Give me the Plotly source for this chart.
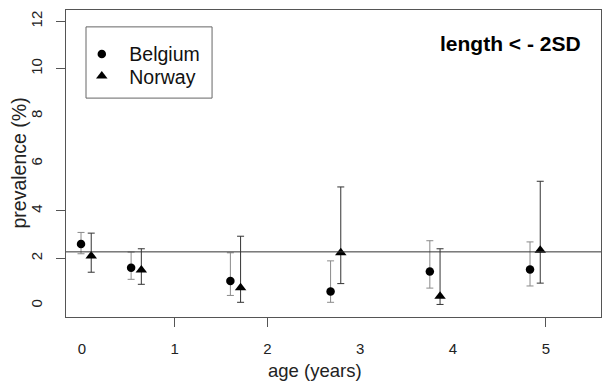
import plotly.graph_objects as go

# ---- data ----
belgium_x = [-0.01, 0.53, 1.60, 2.68, 3.75, 4.83]
belgium_y = [2.60, 1.60, 1.04, 0.60, 1.44, 1.53]
belgium_hi = [3.09, 2.26, 2.23, 1.89, 2.74, 2.69]
belgium_lo = [2.19, 1.11, 0.43, 0.14, 0.74, 0.83]

norway_x = [0.10, 0.64, 1.71, 2.79, 3.86, 4.94]
norway_y = [2.10, 1.50, 0.76, 2.23, 0.40, 2.34]
norway_hi = [3.06, 2.40, 2.93, 5.01, 2.40, 5.25]
norway_lo = [1.41, 0.90, 0.14, 0.93, 0.05, 0.95]

reference_level = 2.27

x_tick_labels = [0, 1, 2, 3, 4, 5]
x_tick_marks = [1, 2, 5]
y_tick_labels = [0, 2, 4, 6, 8, 10, 12]
y_tick_marks = [2, 4, 10, 12]

X_RANGE = [-0.172, 5.595]
Y_RANGE = [-0.48, 12.48]

FONT = "Liberation Sans, Arial, sans-serif"
AXC = "#555555"

fig = go.Figure()

fig.add_trace(go.Scatter(
    x=belgium_x, y=belgium_y, mode="markers", name="Belgium", legend="legend",
    marker=dict(symbol="circle", size=8.5, color="black"),
    error_y=dict(type="data", symmetric=False,
                 array=[h - v for h, v in zip(belgium_hi, belgium_y)],
                 arrayminus=[v - l for l, v in zip(belgium_lo, belgium_y)],
                 color="#8a8a8a", thickness=1, width=3.5),
))
fig.add_trace(go.Scatter(
    x=norway_x, y=norway_y, mode="markers", name="Norway", legend="legend2",
    marker=dict(symbol="triangle-up", size=10, color="black"),
    error_y=dict(type="data", symmetric=False,
                 array=[h - v for h, v in zip(norway_hi, norway_y)],
                 arrayminus=[v - l for l, v in zip(norway_lo, norway_y)],
                 color="#333333", thickness=1, width=3.5),
))
# dummy trace so the tick-mark overlay axes are drawn
fig.add_trace(go.Scatter(x=[], y=[], xaxis="x2", yaxis="y2",
                         showlegend=False, hoverinfo="skip"))

fig.add_hline(y=reference_level, line=dict(color="#333333", width=1))

# legend box
fig.add_shape(type="rect", xref="paper", yref="paper",
              x0=0.0374, x1=0.273, y0=0.713, y1=0.945,
              line=dict(color="#666666", width=1), fillcolor="rgba(0,0,0,0)")

fig.add_annotation(text="<b>length &lt; - 2SD</b>", xref="paper", yref="paper",
                   x=0.966, y=0.8925, xanchor="right", yanchor="middle",
                   showarrow=False, font=dict(family=FONT, size=21, color="black"))
fig.add_annotation(text="age (years)", xref="paper", yref="paper",
                   x=0.465, y=-0.173, xanchor="center", yanchor="middle",
                   showarrow=False, font=dict(family=FONT, size=18.5, color="#222"))
fig.add_annotation(text="prevalence (%)", xref="paper", yref="paper",
                   x=-0.0897, y=0.5, xanchor="center", yanchor="middle",
                   textangle=-90, showarrow=False,
                   font=dict(family=FONT, size=19.5, color="#222"))

legend_common = dict(xanchor="left", yanchor="middle",
                     bgcolor="rgba(0,0,0,0)", borderwidth=0, itemwidth=45,
                     font=dict(family=FONT, size=19.5, color="#111"))

fig.update_layout(
    width=603, height=384,
    margin=dict(l=66, r=2, t=10, b=67),
    paper_bgcolor="white", plot_bgcolor="white",
    font=dict(family=FONT, size=15, color="#222"),
    showlegend=True,
    legend=dict(x=0.0155, y=0.856, **legend_common),
    legend2=dict(x=0.0155, y=0.784, **legend_common),
    xaxis=dict(range=X_RANGE, tickvals=x_tick_labels,
               ticktext=[str(v) for v in x_tick_labels],
               ticks="outside", ticklen=9, tickcolor="rgba(0,0,0,0)",
               ticklabelstandoff=9,
               showgrid=False, zeroline=False,
               showline=True, linecolor=AXC, linewidth=1, mirror=True,
               tickfont=dict(family=FONT, size=15, color="#222")),
    yaxis=dict(range=Y_RANGE, tickvals=y_tick_labels,
               ticktext=[str(v) for v in y_tick_labels],
               ticks="outside", ticklen=9, tickcolor="rgba(0,0,0,0)",
               ticklabelstandoff=8, tickangle=-90,
               showgrid=False, zeroline=False,
               showline=True, linecolor=AXC, linewidth=1, mirror=True,
               tickfont=dict(family=FONT, size=15, color="#222")),
    xaxis2=dict(range=X_RANGE, overlaying="x", anchor="y", side="bottom",
                tickvals=x_tick_marks, ticks="outside", ticklen=9,
                tickcolor=AXC, showticklabels=False, showgrid=False,
                zeroline=False, showline=False),
    yaxis2=dict(range=Y_RANGE, overlaying="y", anchor="x", side="left",
                tickvals=y_tick_marks, ticks="outside", ticklen=9,
                tickcolor=AXC, showticklabels=False, showgrid=False,
                zeroline=False, showline=False),
)

fig.write_html("out.html")
